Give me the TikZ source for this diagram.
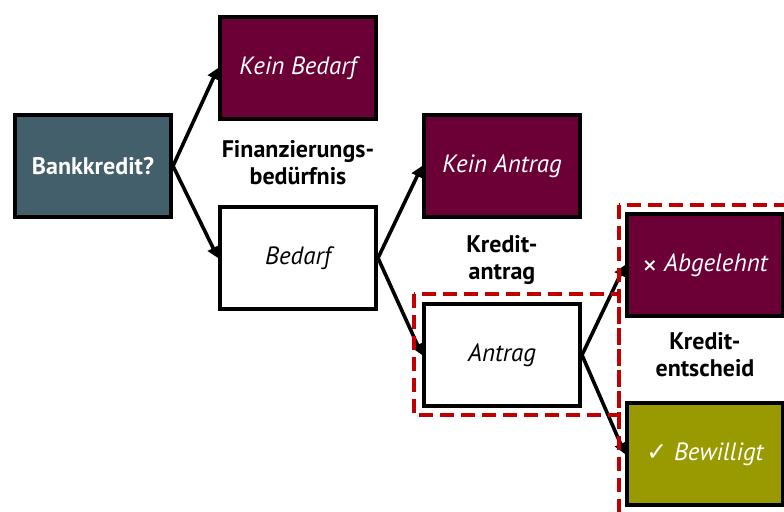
\documentclass[tikz,border=0pt]{standalone}
\usepackage{fontspec}
\setmainfont{PT Sans}
\newfontfamily\symfont{DejaVu Sans}
\usetikzlibrary{arrows.meta}
\definecolor{slate}{HTML}{445F6C}
\definecolor{wine}{HTML}{6A0036}
\definecolor{olive}{HTML}{989A00}
\definecolor{mark}{HTML}{C00000}
\begin{document}
\begin{tikzpicture}[x=0.5pt,y=-0.5pt,
    box/.style={draw=black,line width=2pt,minimum width=78pt,minimum height=51pt,
        inner sep=0pt,font=\fontsize{12.5}{15}\selectfont\itshape},
    nobox/.style={box,fill=wine,text=white},
    yesbox/.style={box,fill=white,text=black},
    stage/.style={align=center,font=\fontsize{12}{13.5}\selectfont\bfseries},
    arr/.style={line width=1.8pt,-{Triangle[length=5.5pt,width=6pt]}},
    frame/.style={draw=mark,line width=2pt,dash pattern=on 7pt off 3.5pt}]
    \useasboundingbox (0,0) rectangle (784,512);
    % nodes
    \node[box,fill=slate,text=white,font=\fontsize{12}{14}\selectfont\bfseries] (start) at (93,166) {Bankkredit?};
    \node[nobox] (keinbedarf) at (298,68) {Kein Bedarf};
    \node[yesbox] (bedarf) at (298,258) {Bedarf};
    \node[nobox] (keinantrag) at (502,166) {Kein Antrag};
    \node[yesbox] (antrag) at (502,355) {Antrag};
    \node[nobox] (abgelehnt) at (705,265) {{\symfont\upshape\bfseries\small ×} Abgelehnt};
    \node[box,fill=olive,text=white] (bewilligt) at (705,454) {{\symfont\upshape ✓} Bewilligt};
    % stage labels
    \node[stage] (need) at (298,163) {Finanzierungs-\\bedürfnis};
    \node[stage] (request) at (502,260) {Kredit-\\antrag};
    \node[stage] (decision) at (705,355) {Kredit-\\entscheid};
    % arrows
    \draw[arr] (start.east) -- (keinbedarf.west);
    \draw[arr] (start.east) -- (bedarf.west);
    \draw[arr] (bedarf.east) -- (keinantrag.west);
    \draw[arr] (bedarf.east) -- (antrag.west);
    \draw[arr] (antrag.east) -- (abgelehnt.west);
    \draw[arr] (antrag.east) -- (bewilligt.west);
    % dashed frames
    \draw[frame] (414,294) rectangle (619,415);
    \draw[frame] (619,205) rectangle (820,540);
\end{tikzpicture}
\end{document}
